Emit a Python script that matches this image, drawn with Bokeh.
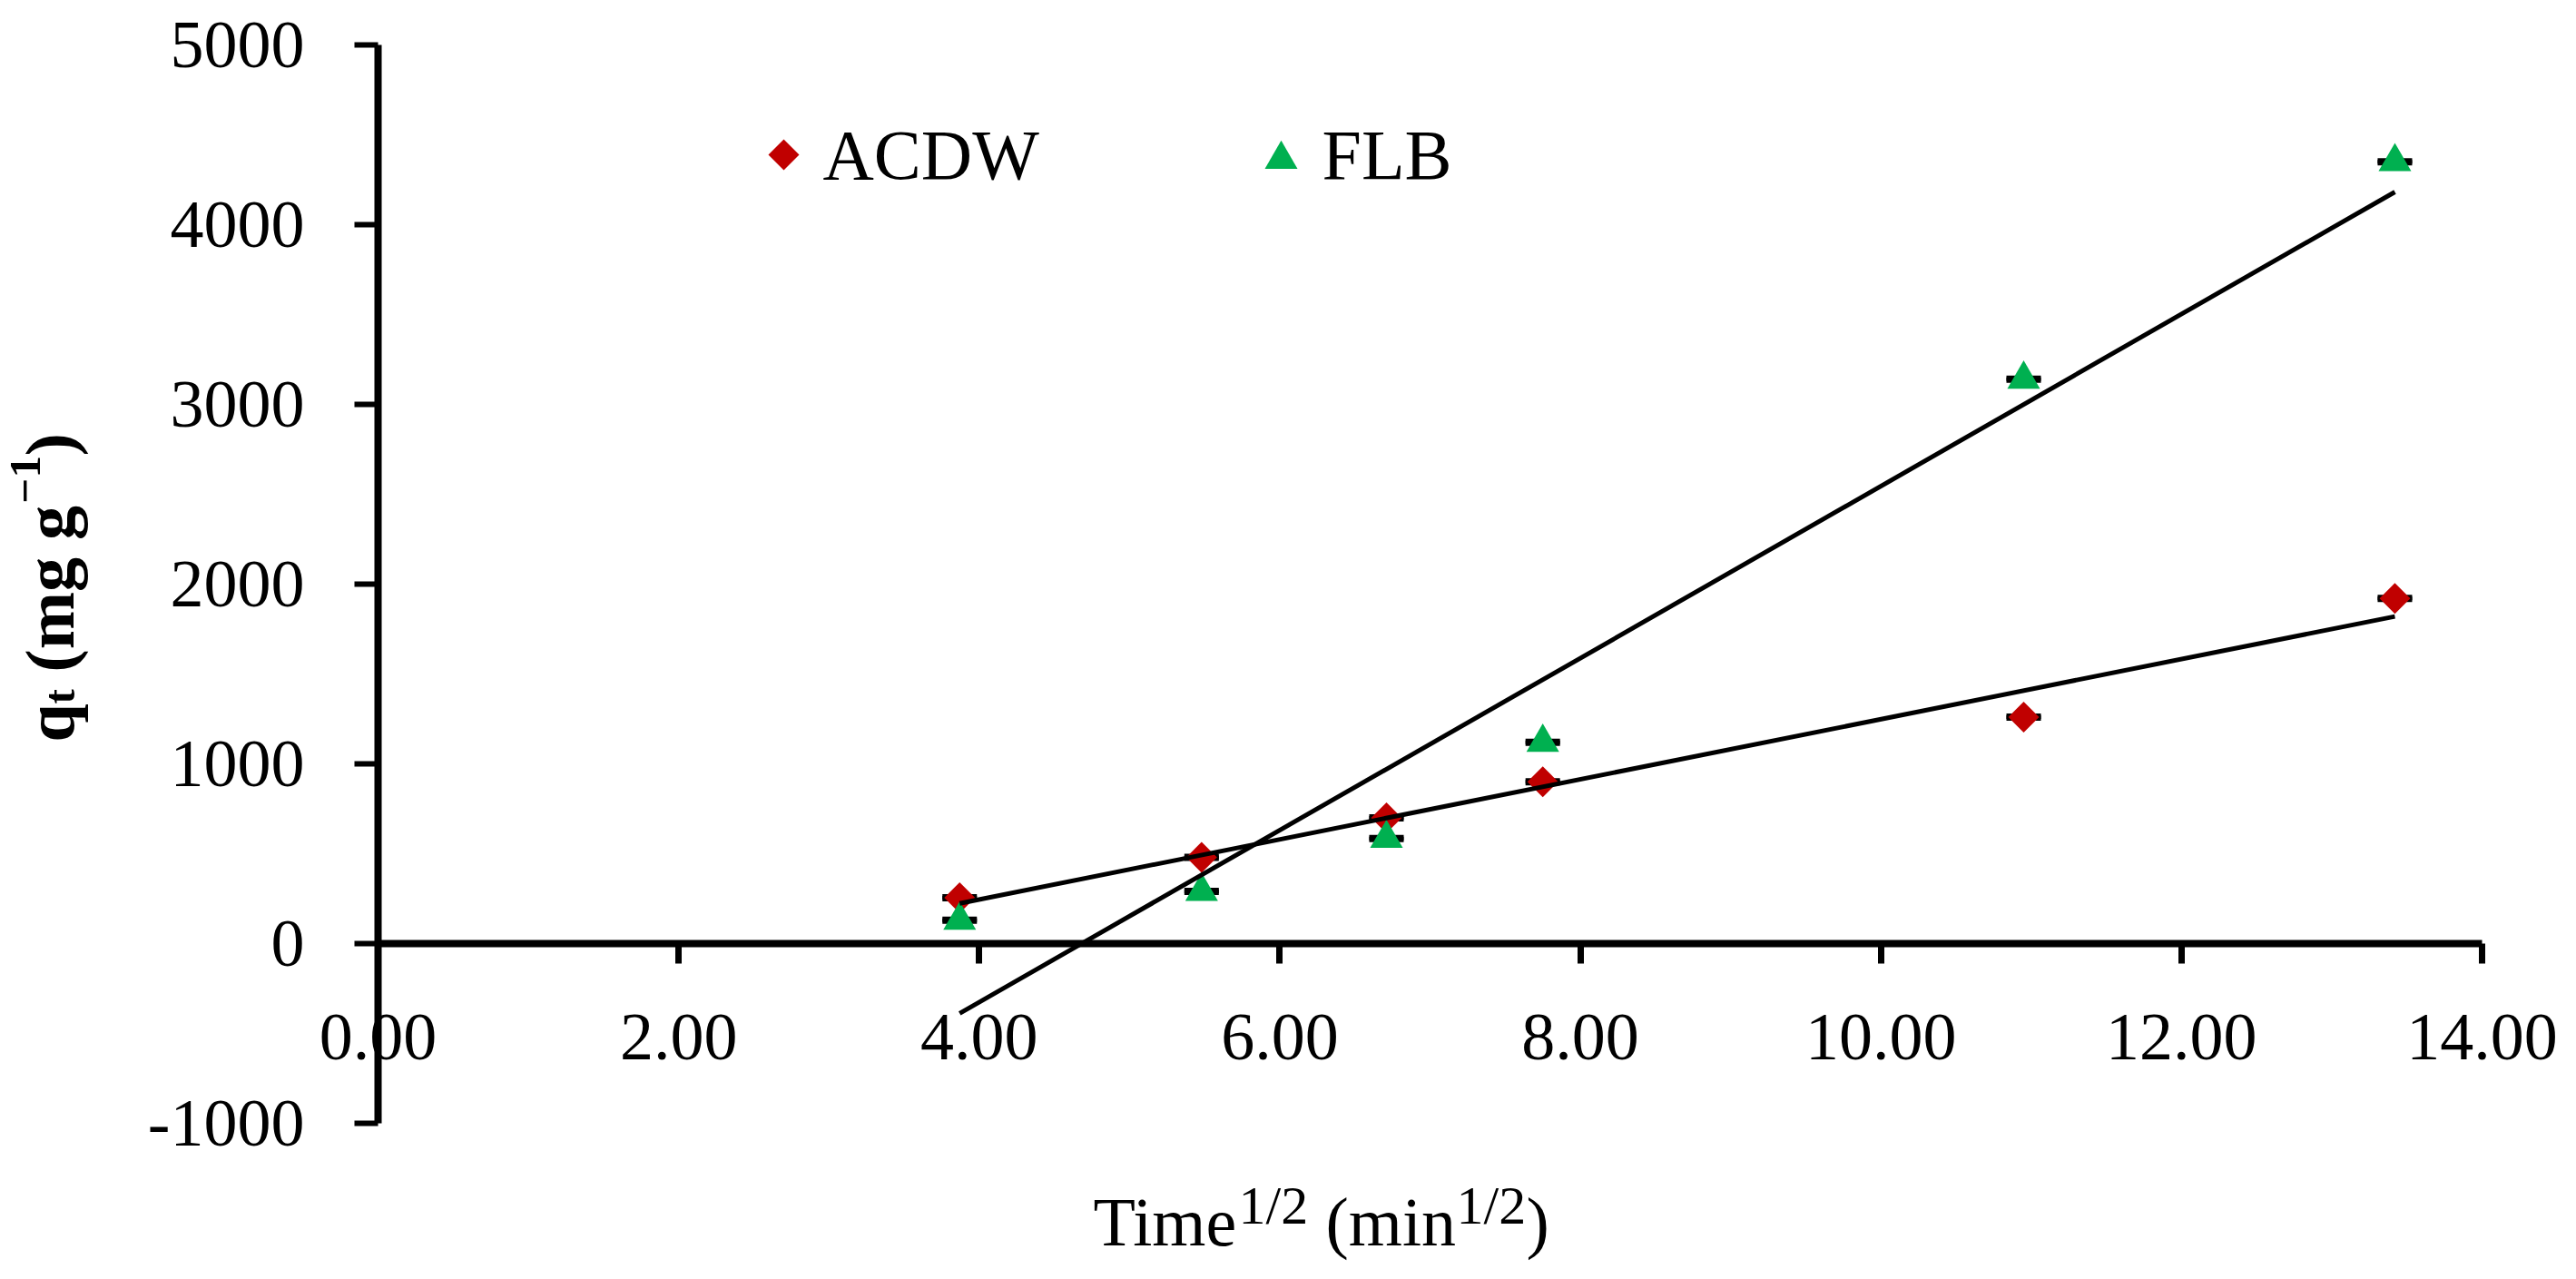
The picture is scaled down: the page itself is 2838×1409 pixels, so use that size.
import numpy as np
from bokeh.plotting import figure
from bokeh.models import (Range1d, FixedTicker, CustomJSTickFormatter, Label,
                          Whisker, TeeHead, ColumnDataSource)
from bokeh.embed import file_html
from bokeh.resources import INLINE

# ---- data ----
sqrt_time = [3.87, 5.48, 6.71, 7.75, 10.95, 13.42]      # Time^1/2 (min^1/2)
acdw_qt = [255, 480, 700, 900, 1260, 1920]               # mg/g
acdw_err = [5, 5, 5, 5, 5, 5]
flb_qt = [130, 290, 585, 1120, 3140, 4350]               # mg/g
flb_err = [5, 5, 5, 5, 5, 5]
series_names = ["ACDW", "FLB"]
x_ticks = [0, 2, 4, 6, 8, 10, 12, 14]
y_ticks = [-1000, 0, 1000, 2000, 3000, 4000, 5000]

FONT = "Liberation Serif"
W, H = 2838, 1409
# pixel positions of the axis extremes inside the canvas
PX0, PX1 = 416, 2734      # x = 0 and x = 14
PY1, PY0 = 49, 1237       # y = 5000 and y = -1000
XMIN, XMAX, YMIN, YMAX = 0, 14, -1000, 5000
sx = (PX1 - PX0) / (XMAX - XMIN)
sy = (PY0 - PY1) / (YMAX - YMIN)
TXT_FIX = 22  # baseline correction for Label text (px)

def dx(px):
    return XMIN + (px - PX0) / sx

def dy(py):
    return YMAX - (py - PY1) / sy

p = figure(width=W, height=H, x_range=Range1d(dx(0), dx(W)), y_range=Range1d(dy(H), dy(0)),
           output_backend="svg", toolbar_location=None,
           min_border_left=0, min_border_right=0, min_border_top=0, min_border_bottom=0)
p.outline_line_color = None
p.grid.visible = False
p.background_fill_color = "white"
p.border_fill_color = "white"

# x axis crossing at y = 0
xa = p.xaxis[0]
xa.fixed_location = 0
xa.bounds = (XMIN, XMAX)
xa.ticker = FixedTicker(ticks=x_ticks, minor_ticks=[])
xa.formatter = CustomJSTickFormatter(code="return tick.toFixed(2);")
xa.axis_line_width = 8
xa.axis_line_color = "black"
xa.major_tick_line_width = 7
xa.major_tick_line_color = "black"
xa.major_tick_out = 22
xa.major_tick_in = 0
xa.minor_tick_line_color = None
xa.major_label_text_font = FONT
xa.major_label_text_font_size = "74px"
xa.major_label_text_color = "black"
xa.major_label_standoff = 56

ya = p.yaxis[0]
ya.fixed_location = 0
ya.bounds = (YMIN, YMAX)
ya.ticker = FixedTicker(ticks=y_ticks, minor_ticks=[])
ya.formatter = CustomJSTickFormatter(code="return tick.toFixed(0);")
ya.axis_line_width = 8
ya.axis_line_color = "black"
ya.major_tick_line_width = 6
ya.major_tick_line_color = "black"
ya.major_tick_out = 26
ya.major_tick_in = 0
ya.minor_tick_line_color = None
ya.major_label_text_font = FONT
ya.major_label_text_font_size = "74px"
ya.major_label_text_color = "black"
ya.major_label_standoff = 55

src_a = ColumnDataSource(dict(x=sqrt_time, y=acdw_qt,
                              lo=[v - e for v, e in zip(acdw_qt, acdw_err)],
                              hi=[v + e for v, e in zip(acdw_qt, acdw_err)]))
src_f = ColumnDataSource(dict(x=sqrt_time, y=flb_qt,
                              lo=[v - e for v, e in zip(flb_qt, flb_err)],
                              hi=[v + e for v, e in zip(flb_qt, flb_err)]))

for src in (src_a, src_f):
    p.add_layout(Whisker(source=src, base="x", upper="hi", lower="lo", dimension="height",
                         line_width=3, line_color="black",
                         upper_head=TeeHead(size=38, line_width=6, line_color="black"),
                         lower_head=TeeHead(size=38, line_width=6, line_color="black")))

STY_A = dict(marker="square", angle=np.pi / 4, size=24, fill_color="#C00000", line_color=None)
STY_F = dict(marker="triangle", size=36, fill_color="#00B050", line_color=None)

p.scatter("x", "y", source=src_a, **STY_A)
p.scatter("x", "y", source=src_f, **STY_F)

# linear trend lines (least squares fit of each series)
for ys in (acdw_qt, flb_qt):
    coef = np.polyfit(sqrt_time, ys, 1)
    xs = [sqrt_time[0], sqrt_time[-1]]
    p.line(xs, list(np.polyval(coef, xs)), line_width=5, line_color="black")

# legend (keys + labels)
for name, sty, kx, ky, tx in [(series_names[0], STY_A, 863, 170, 906),
                              (series_names[1], STY_F, 1411, 175, 1456)]:
    p.scatter([dx(kx)], [dy(ky)], **sty)
    p.add_layout(Label(x=dx(tx), y=dy(192), y_offset=TXT_FIX, text=name, text_font=FONT,
                       text_font_size="78px", text_color="black",
                       text_align="left", text_baseline="alphabetic"))

# y-axis title: q_t (mg g^-1), bold, rotated
ybx, yby = dx(80), dy(817)
for txt, size, shift, along in [("q", 76, 0, 0), ("t", 49, 11, 42), ("(mg g", 76, 0, 77),
                                ("\u22121", 49, -27, 263), (")", 76, 0, 315)]:
    p.add_layout(Label(x=ybx, y=yby, x_offset=shift - TXT_FIX - 4, y_offset=along, text=txt,
                       angle=np.pi / 2,
                       text_font=FONT, text_font_style="bold", text_font_size=f"{size}px",
                       text_color="black", text_align="left", text_baseline="alphabetic"))

# x-axis title: Time^1/2 (min^1/2)
xbx, xby = dx(1204), dy(1365)
for txt, size, along, rise in [("Time", 76, 0, 0), ("1/2", 60, 160, 18), ("(min", 76, 256, 0),
                               ("1/2", 60, 400, 18), (")", 76, 477, 0)]:
    p.add_layout(Label(x=xbx, y=xby, x_offset=along, y_offset=rise + TXT_FIX - 2, text=txt,
                       text_font=FONT, text_font_size=f"{size}px", text_color="black",
                       text_align="left", text_baseline="alphabetic"))

open("out.html", "w").write(file_html(p, INLINE))
